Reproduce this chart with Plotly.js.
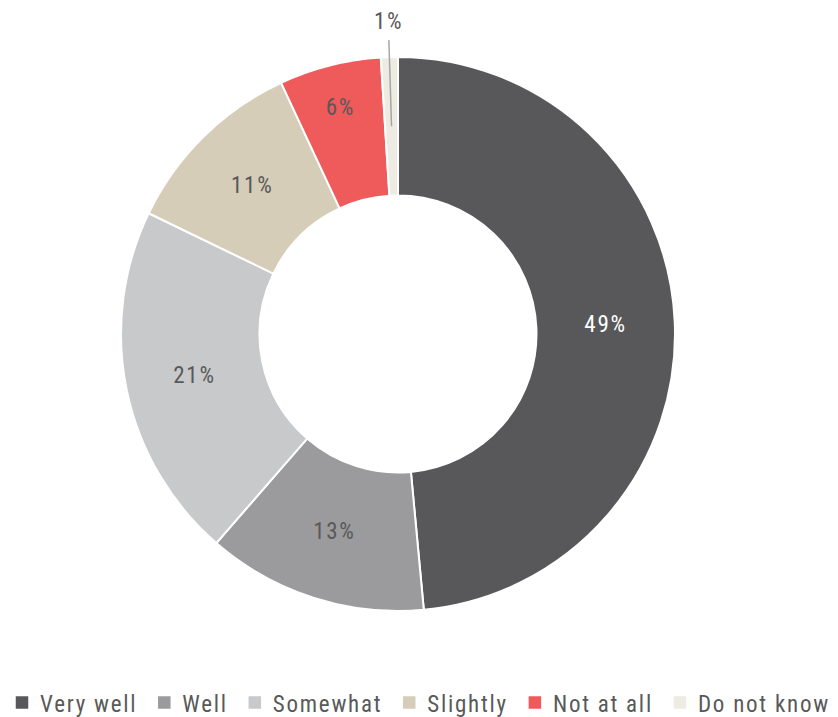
<!DOCTYPE html>
<html>
<head>
<meta charset="utf-8">
<script src="https://cdn.plot.ly/plotly-3.0.1.min.js"></script>
<style>
html,body{margin:0;padding:0;background:#fff;}
#chart{width:838px;height:717px;}
text{letter-spacing:1.75px;}
path.legendpie{transform:translate(22px,0) scale(1.25);}
</style>
</head>
<body>
<div id="chart"></div>
<script>
const categories = ["Very well", "Well", "Somewhat", "Slightly", "Not at all", "Do not know"];
const values = [49, 13, 21, 11, 6, 1];
const colors = ["#58585a", "#9b9b9d", "#c8c9cb", "#d5cdb8", "#ef5a5b", "#eeebe3"];
const textColors = ["#ffffff", "#595959", "#595959", "#595959", "#595959", "#595959"];
const positions = ["inside", "inside", "inside", "inside", "inside", "none"];

const FONT = "Roboto Condensed, Roboto, sans-serif";
const W = 838, H = 717;
const M = { l: 0, r: 0, t: 57, b: 106 };
const plotW = W - M.l - M.r, plotH = H - M.t - M.b;
const domX = [0, 796 / 838];

const trace = {
  type: "pie",
  labels: categories,
  values: values,
  sort: false,
  direction: "clockwise",
  rotation: 0,
  hole: 0.5,
  marker: { colors: colors, line: { color: "#ffffff", width: 2 } },
  texttemplate: "%{value}%",
  textposition: positions,
  insidetextorientation: "horizontal",
  insidetextfont: { family: FONT, size: 23, color: textColors },
  hoverinfo: "label+value",
  domain: { x: domX, y: [0, 1] }
};

// outside label for the last (small) slice, placed from the data's angle
const total = values.reduce((a, b) => a + b, 0);
const lastIdx = values.length - 1;
const cumBefore = values.slice(0, lastIdx).reduce((a, b) => a + b, 0);
const theta = 2 * Math.PI * (cumBefore + values[lastIdx] / 2) / total;
const R = Math.min(plotW * (domX[1] - domX[0]), plotH) / 2;
const cx = M.l + plotW * (domX[0] + domX[1]) / 2;
const cy = M.t + plotH / 2;
const rTip = R * 0.75, rText = R * 1.13;
const tipX = cx + rTip * Math.sin(theta), tipY = cy - rTip * Math.cos(theta);

const layout = {
  width: W,
  height: H,
  margin: M,
  paper_bgcolor: "#ffffff",
  plot_bgcolor: "#ffffff",
  font: { family: FONT, color: "#595959" },
  showlegend: true,
  legend: {
    orientation: "h",
    x: 0, xanchor: "left",
    yref: "container",
    y: 0.05, yanchor: "top",
    font: { family: FONT, size: 23, color: "#595959" },
    itemwidth: 30,
    traceorder: "normal"
  },
  annotations: [{
    xref: "paper", yref: "paper",
    x: (tipX - M.l) / plotW, y: (M.t + plotH - tipY) / plotH,
    ax: (rText - rTip) * Math.sin(theta), ay: -(rText - rTip) * Math.cos(theta),
    text: values[lastIdx] + "%",
    showarrow: true, arrowhead: 0, arrowwidth: 1.5, arrowcolor: "#a6a6a6",
    startstandoff: 4,
    font: { family: FONT, size: 23, color: "#595959" }
  }]
};

Plotly.newPlot("chart", [trace], layout, { displayModeBar: false, staticPlot: true });
</script>
</body>
</html>
